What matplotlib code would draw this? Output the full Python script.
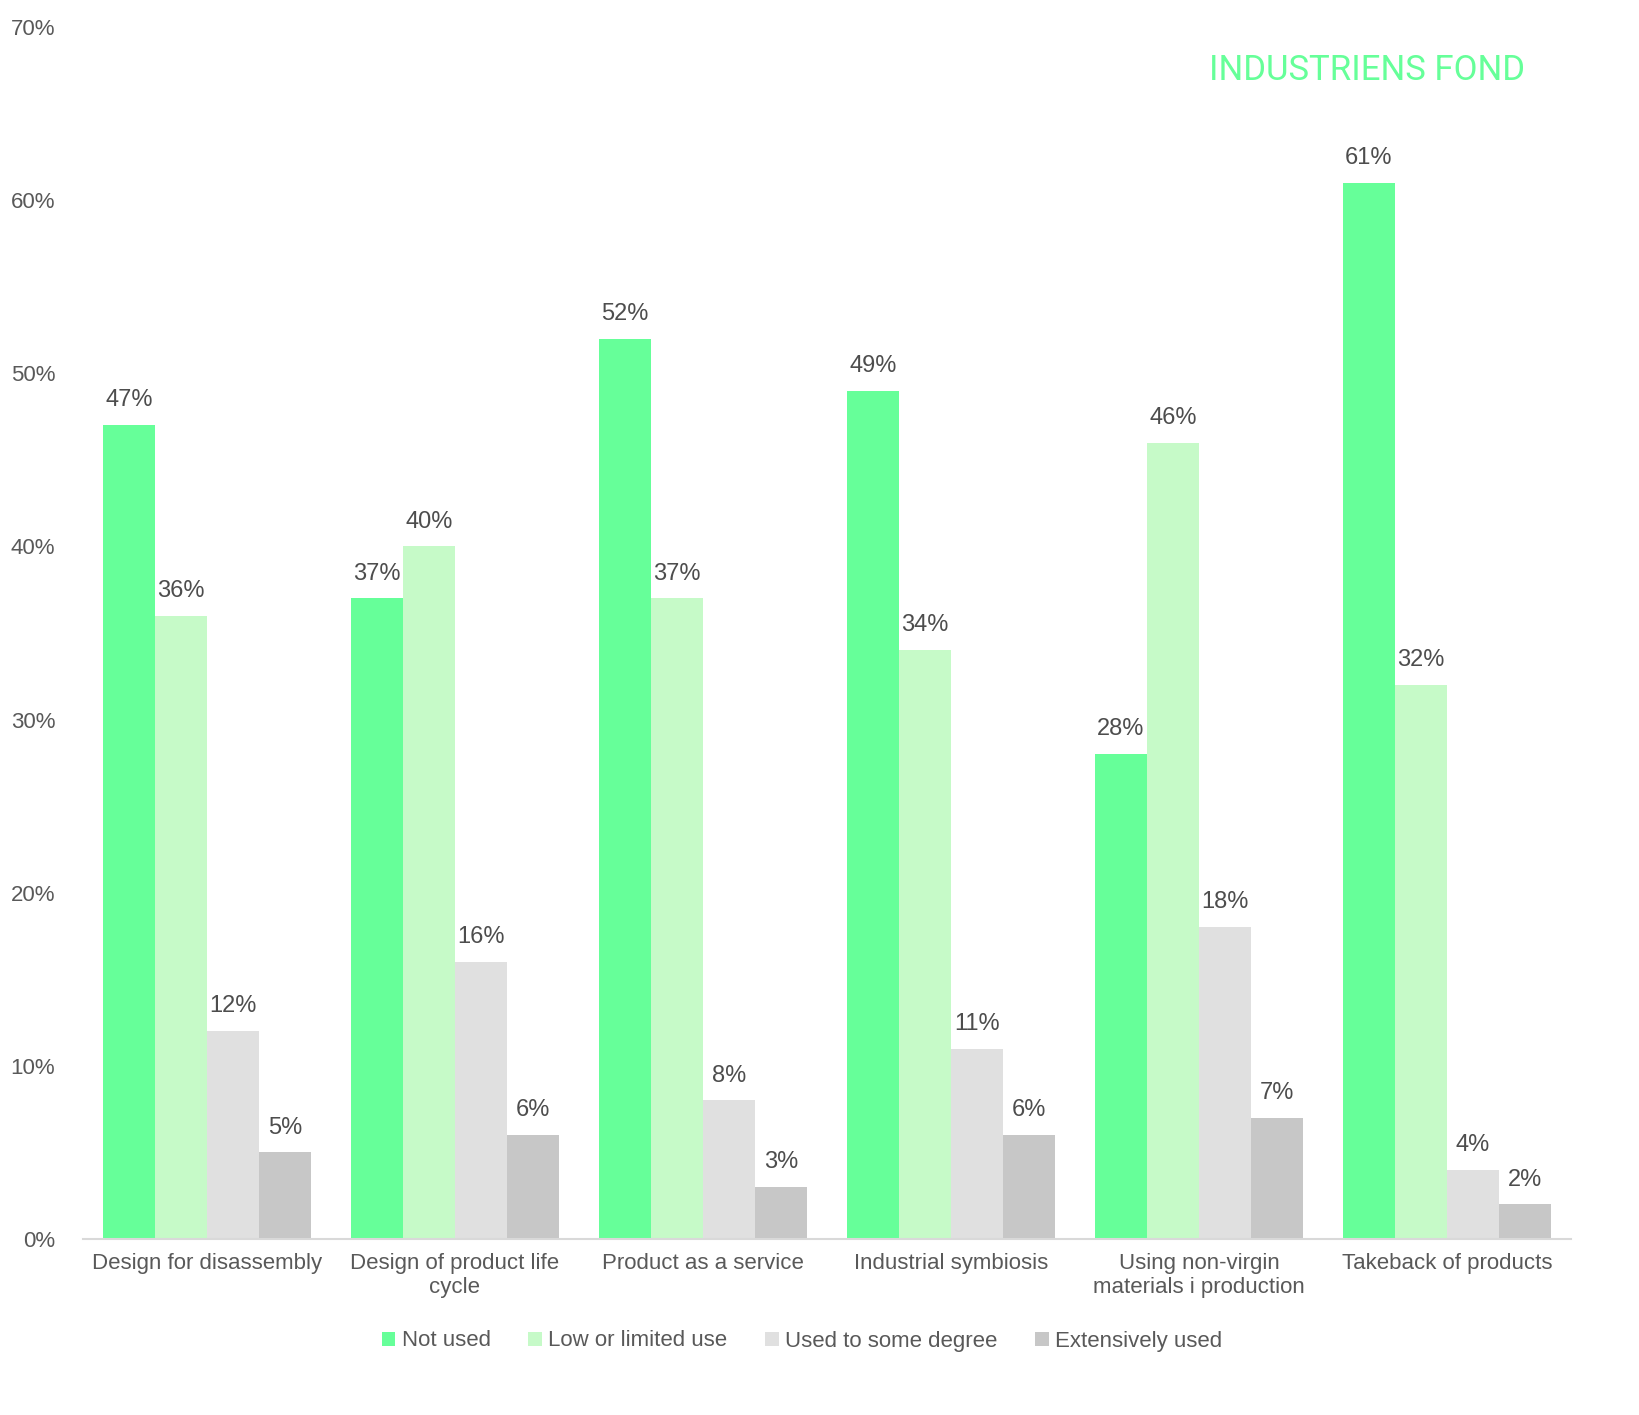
import matplotlib.pyplot as plt
import numpy as np

plt.rcParams['font.family'] = ['Liberation Sans', 'DejaVu Sans']

categories = ['Design for disassembly', 'Design of product life\ncycle', 'Product as a service',
              'Industrial symbiosis', 'Using non-virgin\nmaterials i production', 'Takeback of products']
series_names = ['Not used', 'Low or limited use', 'Used to some degree', 'Extensively used']
not_used = [47, 37, 52, 49, 28, 61]
low_use = [36, 40, 37, 34, 46, 32]
some_degree = [12, 16, 8, 11, 18, 4]
extensive = [5, 6, 3, 6, 7, 2]
colors = ['#66FF99', '#C6FAC8', '#E0E0E0', '#C7C7C7']

series = [not_used, low_use, some_degree, extensive]

fig = plt.figure(figsize=(16.39, 14.15), dpi=100)
ax = fig.add_axes([83 / 1639, 176 / 1415, 1488 / 1639, (1239 - 27) / 1415])

x = np.arange(len(categories))
w = 0.21
for i, (vals, name, c) in enumerate(zip(series, series_names, colors)):
    pos = x + (i - 1.5) * w
    ax.bar(pos, np.array(vals) / 100, width=w, color=c, label=name)
    for p, v in zip(pos, vals):
        ax.text(p, v / 100 + 0.008, f'{v}%', ha='center', va='bottom', fontsize=17, color='#4D4D4D')

ax.set_xlim(-0.5, len(categories) - 0.5)
ax.set_ylim(0, 0.7)
ax.set_yticks(np.arange(0, 0.71, 0.1))
ax.set_yticklabels([f'{int(round(t * 100))}%' for t in np.arange(0, 0.71, 0.1)])
ax.set_xticks(x)
ax.set_xticklabels(categories)
ax.tick_params(axis='both', length=0, labelsize=16, colors='#595959')
ax.tick_params(axis='y', pad=20)
ax.tick_params(axis='x', pad=10)
for s in ['top', 'right', 'left']:
    ax.spines[s].set_visible(False)
ax.spines['bottom'].set_color('#D9D9D9')
ax.spines['bottom'].set_linewidth(1.5)

fig.legend(loc='center', bbox_to_anchor=(802 / 1639, 1 - 1341 / 1415), ncol=4, frameon=False,
           fontsize=16, handlelength=0.6, handleheight=0.6, handletextpad=0.3, columnspacing=1.7,
           labelcolor='#595959')

fig.text(1525 / 1639, 1 - 70 / 1415, 'INDUSTRIENS FOND', ha='right', va='center',
         fontsize=25, color='#66FF99', family=['Roboto', 'DejaVu Sans'])

fig.savefig('out.png', dpi=100)
